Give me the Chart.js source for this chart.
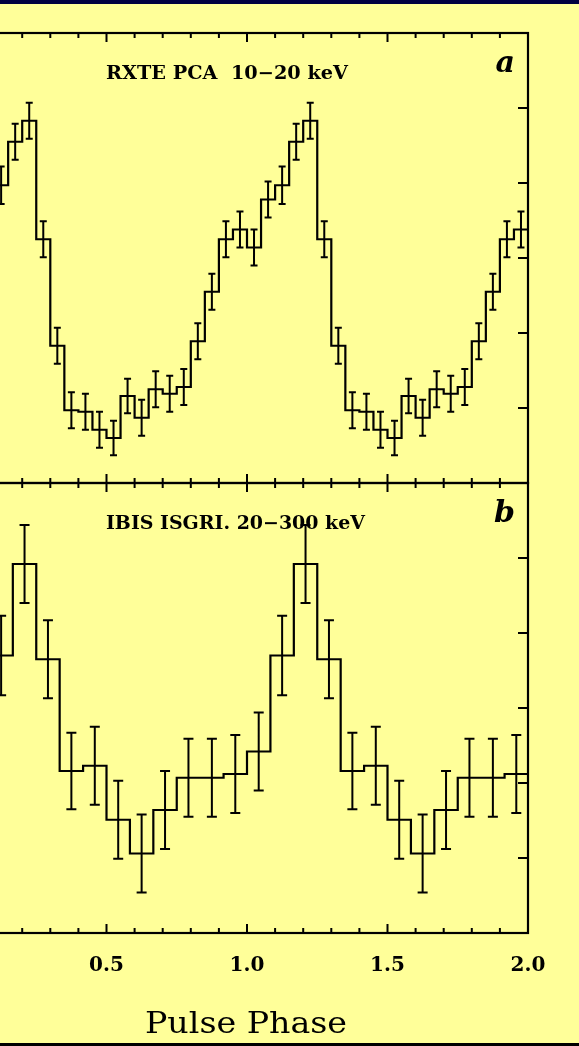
<!DOCTYPE html>
<html><head><meta charset="utf-8">
<script src="https://cdn.jsdelivr.net/npm/chart.js@4"></script>
<style>
html,body{margin:0;padding:0;background:#ffff99;width:579px;height:1046px;overflow:hidden;position:relative;}
#topbar{position:absolute;left:0;top:0;width:579px;height:4px;background:#000040;}
#botline{position:absolute;left:0;top:1043px;width:579px;height:3px;background:#000;}
canvas{position:absolute;}
#c1{left:-60px;top:0;}
#c2{left:-60px;top:470px;}
</style></head><body>
<div id="topbar"></div>
<canvas id="c1" width="639" height="500"></canvas>
<canvas id="c2" width="639" height="576"></canvas>
<div id="botline"></div>
<script>
// ---- data (pulse profile, one cycle; plotted twice) ----
const cycles = 2;
const pcaRate  = [3.14, 3.78, 3.97, 4.55, 4.83, 3.25, 1.83, 0.97, 0.95, 0.71,
                  0.60, 1.16, 0.87, 1.25, 1.19, 1.28, 1.89, 2.55, 3.25, 3.38];
const pcaErr   = [0.24, 0.24, 0.25, 0.24, 0.24, 0.24, 0.24, 0.24, 0.24, 0.24,
                  0.23, 0.23, 0.24, 0.24, 0.24, 0.24, 0.24, 0.24, 0.24, 0.24];
const isgriRate = [2.42, 3.70, 4.92, 3.65, 2.16, 2.23, 1.51, 1.06, 1.64, 2.07, 2.07, 2.12];
const isgriErr  = [0.52, 0.53, 0.52, 0.52, 0.51, 0.52, 0.52, 0.52, 0.52, 0.52, 0.52, 0.52];
const phaseTickValues = [0, 0.5, 1.0, 1.5, 2.0];
const phaseTickLabels = ['0.0', '0.5', '1.0', '1.5', '2.0'];
const yTickValues = [0, 1, 2, 3, 4, 5, 6];
const panelTitles = ['RXTE PCA  10\u221220 keV', 'IBIS ISGRI. 20\u2212300 keV'];
const panelLetters = ['a', 'b'];
const xAxisTitle = 'Pulse Phase';

function stepPoints(rates) {
  const n = rates.length, pts = [];
  for (let c = 0; c < cycles; c++)
    for (let i = 0; i < n; i++) pts.push({x: c + i / n, y: rates[i]});
  pts.push({x: cycles, y: rates[n - 1]});
  return pts;
}
function centerPoints(rates, errs) {
  const n = rates.length, pts = [];
  for (let c = 0; c < cycles; c++)
    for (let i = 0; i < n; i++) pts.push({x: c + (i + 0.5) / n, y: rates[i], e: errs[i]});
  return pts;
}

// draw text stretched horizontally to a given width
function fitText(ctx, text, x, y, width, align) {
  const w = ctx.measureText(text).width;
  const s = width / w;
  ctx.save();
  ctx.textAlign = 'left';
  let x0 = x;
  if (align === 'center') x0 = x - width / 2;
  else if (align === 'right') x0 = x - width;
  ctx.translate(x0, y);
  ctx.scale(s, 1);
  ctx.fillText(text, 0, 0);
  ctx.restore();
}

const framePlugin = {
  id: 'frame',
  afterDatasetsDraw(chart, args, opts) {
    const ctx = chart.ctx, a = chart.chartArea, xs = chart.scales.x, ys = chart.scales.y;
    ctx.save();
    ctx.strokeStyle = '#000';
    ctx.lineWidth = 2;
    ctx.lineCap = 'butt';
    // error bars
    ctx.beginPath();
    chart.data.datasets[1].data.forEach(p => {
      const px = xs.getPixelForValue(p.x);
      if (px < a.left - 1 || px > a.right + 1) return;
      const y1 = ys.getPixelForValue(p.y + p.e), y2 = ys.getPixelForValue(p.y - p.e);
      ctx.moveTo(px, y1); ctx.lineTo(px, y2);
      ctx.moveTo(px - opts.cap, y1); ctx.lineTo(px + opts.cap, y1);
      ctx.moveTo(px - opts.cap, y2); ctx.lineTo(px + opts.cap, y2);
    });
    ctx.stroke();
    // frame
    ctx.lineWidth = 2.2;
    ctx.strokeRect(a.left, a.top, a.right - a.left, a.bottom - a.top);
    ctx.lineWidth = 2;
    // ticks
    ctx.beginPath();
    for (let k = 0; k <= 20; k++) {
      const px = xs.getPixelForValue(k / 10);
      const len = (k % 5 === 0) ? 9 : 5;
      ctx.moveTo(px, a.top); ctx.lineTo(px, a.top + len);
      ctx.moveTo(px, a.bottom); ctx.lineTo(px, a.bottom - len);
    }
    yTickValues.forEach(v => {
      const py = ys.getPixelForValue(v);
      ctx.moveTo(a.right, py); ctx.lineTo(a.right - 10, py);
      ctx.moveTo(a.left, py); ctx.lineTo(a.left + 10, py);
    });
    ctx.stroke();
    // texts
    ctx.fillStyle = '#000';
    ctx.textBaseline = 'alphabetic';
    ctx.font = 'bold 18px "DejaVu Serif"';
    fitText(ctx, opts.title, a.left + 140, a.top + 45.5, opts.titleWidth, 'left');
    ctx.textAlign = 'right';
    ctx.font = 'bold italic 30px "DejaVu Serif"';
    ctx.fillText(opts.letter, a.right - 13, a.top + 39);
    if (opts.xLabels) {
      ctx.textAlign = 'center';
      ctx.font = 'bold 20px "DejaVu Serif"';
      phaseTickValues.forEach((v, i) => {
        ctx.fillText(phaseTickLabels[i], xs.getPixelForValue(v), a.bottom + 37.7);
      });
      ctx.font = '29px "DejaVu Serif"';
      fitText(ctx, xAxisTitle, (a.left + a.right) / 2 - 1, a.bottom + 99.7, 202, 'center');
    }
    ctx.restore();
  }
};

function makeChart(id, rates, errs, padding, title, titleWidth, letter, cap, xLabels) {
  return new Chart(document.getElementById(id), {
    type: 'line',
    data: {
      datasets: [
        {data: stepPoints(rates), stepped: true, borderColor: '#000', borderWidth: 2.2,
         pointRadius: 0, fill: false, tension: 0},
        {data: centerPoints(rates, errs), showLine: false, pointRadius: 0, borderWidth: 0}
      ]
    },
    options: {
      responsive: false, animation: false, devicePixelRatio: 1,
      layout: {padding: padding},
      scales: {
        x: {type: 'linear', min: 0, max: 2, display: false},
        y: {type: 'linear', min: 0, max: 6, display: false}
      },
      plugins: {
        legend: {display: false}, tooltip: {enabled: false},
        frame: {title: title, titleWidth: titleWidth, letter: letter, cap: cap, xLabels: xLabels}
      }
    },
    plugins: [framePlugin]
  });
}

makeChart('c1', pcaRate, pcaErr, {left: 26, right: 51, top: 33, bottom: 17},
          panelTitles[0], 242, panelLetters[0], 3.5, false);
makeChart('c2', isgriRate, isgriErr, {left: 26, right: 51, top: 13, bottom: 113},
          panelTitles[1], 259, panelLetters[1], 5, true);
</script>
</body></html>
